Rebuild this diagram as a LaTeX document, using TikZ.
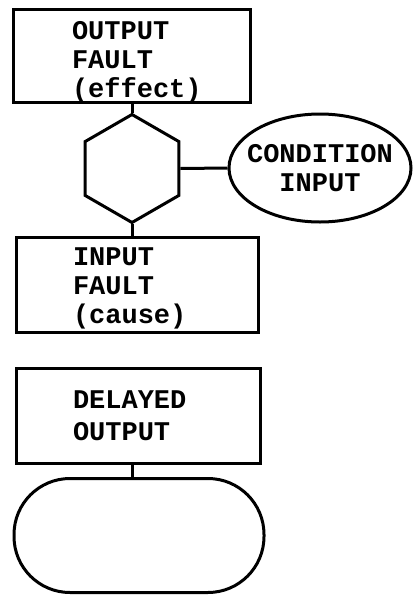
\documentclass[tikz,border=0pt]{standalone}
\usepackage{fontspec}
\setmonofont{Liberation Mono}
\usetikzlibrary{shapes.geometric}
\begin{document}
\begin{tikzpicture}[x=1pt,y=-1pt,
  every node/.style={font=\ttfamily\bfseries\fontsize{27}{29}\selectfont},
  line/.style={line width=3pt},
  faultbox/.style={line, draw, rectangle, align=left, inner ysep=0pt},
  gate/.style={line, draw, regular polygon, regular polygon sides=6,
    shape border rotate=30, minimum size=108pt, inner sep=0pt},
  cond/.style={line, draw, ellipse, minimum width=182pt, minimum height=108pt,
    align=center, inner xsep=-9pt, inner ysep=0pt},
  terminal/.style={line, draw, rectangle, rounded corners=56pt,
    minimum width=250pt, minimum height=114pt}]
\useasboundingbox (0,0) rectangle (413,595);

% inhibit gate with its effect, cause and condition
\node[faultbox, text width=119pt, inner xsep=59pt, minimum height=92pt] (out)
  at (131.5,56) {\rule{0pt}{30pt}OUTPUT\\FAULT\\(effect)};
\node[gate] (hex) at (132,168.5) {};
\node[cond] (cnd) at (320,168) {CONDITION\\INPUT};
\node[faultbox, text width=128pt, inner xsep=57pt, minimum height=95pt] (in)
  at (137,284.5) {\rule{0pt}{26pt}INPUT\\FAULT\\(cause)};

\draw[line] (out.south -| hex.north) -- (hex.north);
\draw[line] (hex.south) -- (hex.south |- in.north);
\draw[line] (hex.east) -- (cnd.west);

% delay event with its empty terminal symbol
\node[faultbox, text width=130pt, inner xsep=57pt, minimum height=95pt] (dly)
  at (138,415.5) {DELAYED\\[3pt]OUTPUT};
\node[terminal] (trm) at (139,535.5) {};
\draw[line] (dly.south -| hex.south) -- (trm.north -| hex.south);
\end{tikzpicture}
\end{document}
